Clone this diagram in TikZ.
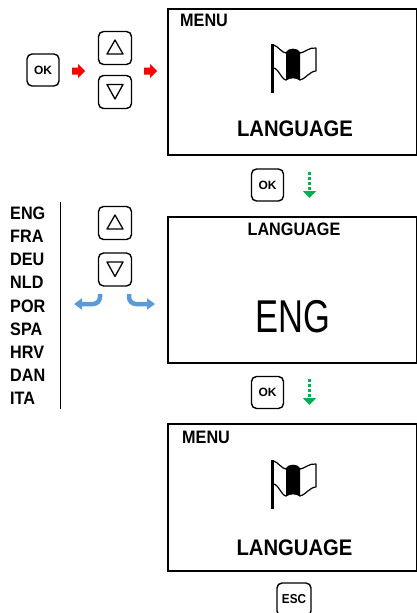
\documentclass[tikz,border=0pt]{standalone}
\usepackage{fontspec}
\setmainfont{Liberation Sans}
\newfontfamily\narrowfont[FakeStretch=0.9]{Liberation Sans}
\newfontfamily\condfont[FakeStretch=0.75]{Liberation Sans}
\usetikzlibrary{positioning,arrows.meta}
\definecolor{okgreen}{HTML}{00B050}
\definecolor{turnblue}{HTML}{5B9BD5}
\begin{document}
\begin{tikzpicture}[x=1pt,y=-1pt,
  keybtn/.style={draw, rounded corners=5pt, line width=1.4pt, minimum width=32pt, minimum height=32pt, inner sep=0pt, font=\bfseries\fontsize{12}{13}\selectfont},
  screen/.style={draw, line width=1.2pt, minimum width=249pt, minimum height=146pt, inner sep=0pt},
  menutext/.style={font=\narrowfont\bfseries\fontsize{18}{20}\selectfont, inner sep=0pt},
  bigtext/.style={font=\narrowfont\bfseries\fontsize{22.5}{24}\selectfont, inner sep=0pt},
  redarrow/.style={fill=red},
  okarrow/.style={okgreen, line width=3pt, dash pattern=on 3pt off 2pt, -{Triangle[width=13pt,length=7pt]}},
  turnarrow/.style={turnblue, line width=4.5pt, rounded corners=7pt, -{Triangle[width=11pt,length=8pt]}},
  tri/.style={line width=1.3pt, line join=round},
  flag/.pic={
    \draw[line width=2.5pt] (1.5,0) -- (1.5,49);
    \fill (15,9) .. controls (17,4) and (27,4) .. (29,9) -- (29,36)
      .. controls (26,33) and (18,33) .. (15,36) -- cycle;
    \draw[line width=1.2pt, line join=round] (2.5,1) .. controls (7,2) and (11,9) .. (15,9)
      .. controls (17,4) and (27,4) .. (29,9)
      .. controls (33,9) and (38,3) .. (45,4) -- (45,27)
      .. controls (39,27) and (33,36) .. (29,36)
      .. controls (26,33) and (18,33) .. (15,36)
      .. controls (11,36) and (7,24) .. (2.5,24);
  }
]
\useasboundingbox (0,0) rectangle (416,613);

% first step: OK, then up / down
\node[keybtn] (okA) at (43,70) {OK};
\coordinate (raA) at (78.5,71);
\node[keybtn, minimum size=33pt] (upA) at (115,48) {};
\node[keybtn, minimum size=33pt] (downA) at (115,92) {};
\coordinate (raB) at (150.5,71);
\foreach \r in {raA,raB}
  \fill[redarrow] ([shift={(-6.5,-3.5)}]\r) -- ++(6,0) -- ++(0,-3.5) -- ++(7,7)
    -- ++(-7,7) -- ++(0,-3.5) -- ++(-6,0) -- cycle;

% screen MENU
\node[screen] (scrA) at (292.5,82) {};
\node[menutext, anchor=west] (menuA) at (180,20) {MENU};
\pic at (271,44) {flag};
\node[bigtext] (langA) at (295,128.5) {LANGUAGE};

\node[keybtn] (okB) at (267.5,185) {OK};
\coordinate (gA) at (309.5,172);
\coordinate (gB) at (309.5,198);
\draw[okarrow] (gA) -- (gB);

% language list
\foreach \lang [count=\i from 0] in {ENG,FRA,DEU,NLD,POR,SPA,HRV,DAN,ITA}
  \node[menutext, anchor=west] (lang\i) at (10,213.5+23.1*\i) {\lang};
\draw[line width=1pt] (60,202) -- (60,409);

\node[keybtn, minimum size=33pt] (upB) at (115,223) {};
\node[keybtn, minimum size=33pt] (downB) at (115,269.5) {};
\foreach \k in {upA,upB}
  \draw[tri] ([shift={(0,-8)}]\k.center) -- ([shift={(8,6)}]\k.center) -- ([shift={(-8,6)}]\k.center) -- cycle;
\foreach \k in {downA,downB}
  \draw[tri] ([shift={(0,7)}]\k.center) -- ([shift={(8,-7.5)}]\k.center) -- ([shift={(-8,-7.5)}]\k.center) -- cycle;

\coordinate (tL1) at (100,294);
\coordinate (tL2) at (74,304);
\coordinate (tR1) at (129,294);
\coordinate (tR2) at (155,304);
\draw[turnarrow] (tL1) |- (tL2);
\draw[turnarrow] (tR1) |- (tR2);

% screen LANGUAGE
\node[screen] (scrB) at (292.5,290) {};
\node[menutext] (langB) at (294,229.5) {LANGUAGE};
\node[font=\condfont\fontsize{46}{50}\selectfont, inner sep=0pt] (engB) at (293,316.5) {ENG};

\node[keybtn] (okC) at (267.5,392.5) {OK};
\coordinate (gC) at (309.5,379);
\coordinate (gD) at (309.5,405);
\draw[okarrow] (gC) -- (gD);

% back to MENU
\node[screen, minimum height=147pt] (scrC) at (292.5,497.5) {};
\node[menutext, anchor=west] (menuC) at (182,437.5) {MENU};
\pic at (271,460) {flag};
\node[bigtext] (langC) at (294.5,547.5) {LANGUAGE};

\node[keybtn, minimum width=34pt, minimum height=33pt, font=\narrowfont\bfseries\fontsize{13}{14}\selectfont] (esc) at (294,599.5) {ESC};
\end{tikzpicture}
\end{document}
